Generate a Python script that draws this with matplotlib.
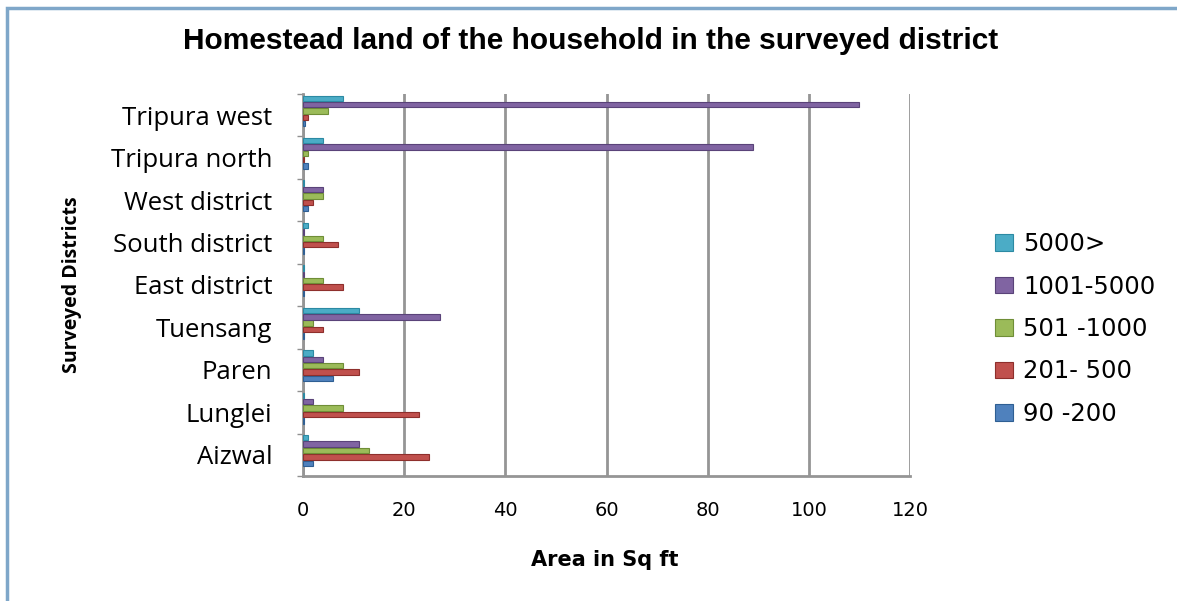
import matplotlib
matplotlib.use("Agg")
import matplotlib.pyplot as plt
import numpy as np
from matplotlib.patches import Rectangle

categories = ["Aizwal", "Lunglei", "Paren", "Tuensang", "East district",
              "South district", "West district", "Tripura north", "Tripura west"]
series_names = ["90 -200", "201- 500", "501 -1000", "1001-5000", "5000>"]
v_90_200 = [2, 0.3, 6, 0.3, 0.3, 0.3, 1, 1, 0.5]
v_201_500 = [25, 23, 11, 4, 8, 7, 2, 0.3, 1]
v_501_1000 = [13, 8, 8, 2, 4, 4, 4, 1, 5]
v_1001_5000 = [11, 2, 4, 27, 0.3, 0.3, 4, 89, 110]
v_5000_up = [1, 0.3, 2, 11, 0.3, 1, 0.3, 4, 8]
colors = ["#4F81BD", "#C0504D", "#9BBB59", "#8064A2", "#4BACC6"]
edge_colors = ["#2F5F93", "#8E2F2C", "#6F8E37", "#5A4379", "#2C8AA3"]
xticks = [0, 20, 40, 60, 80, 100, 120]

series = [v_90_200, v_201_500, v_501_1000, v_1001_5000, v_5000_up]

fig = plt.figure(figsize=(11.77, 6.01), dpi=100)
ax = fig.add_axes([0.2574, 0.208, 0.5158, 0.6356])

y = np.arange(len(categories))
h = 0.15
offsets = (np.arange(5) - 2) * h + 0.1
for i, (vals, name) in enumerate(zip(series, series_names)):
    ax.barh(y + offsets[i], vals, height=h * 0.85, color=colors[i],
            edgecolor=edge_colors[i], linewidth=0.8, label=name, zorder=3)

ax.set_xlim(0, 120)
ax.set_ylim(-0.5, len(categories) - 0.5)
ax.set_xticks(xticks)
ax.set_xticklabels([str(t) for t in xticks], fontsize=14, family="DejaVu Sans")
ax.set_yticks(y)
ax.set_yticklabels(categories, fontsize=18.5, family="Open Sans")
ax.tick_params(axis="x", length=0, pad=18)
ax.tick_params(axis="y", length=0, pad=22)
ax.set_yticks(np.arange(-0.5, len(categories), 1), minor=True)
ax.tick_params(axis="y", which="minor", length=4, color="#909090", width=1)
ax.grid(axis="x", color="#959595", linewidth=2, zorder=0)
for s in ["top", "right"]:
    ax.spines[s].set_visible(False)
ax.spines["left"].set_color("#959595")
ax.spines["left"].set_linewidth(2)
ax.spines["bottom"].set_color("#959595")
ax.spines["bottom"].set_linewidth(2)

fig.text(0.514, 0.068, "Area in Sq ft", ha="center", va="center",
         fontsize=15, fontweight="bold", family="DejaVu Sans")
fig.text(0.061, 0.526, "Surveyed Districts", ha="center", va="center",
         rotation=90, fontsize=14, fontweight="bold", family="Open Sans")

fig.text(0.502, 0.932, "Homestead land of the household in the surveyed district",
         ha="center", va="center", fontsize=21.5, fontweight="bold",
         family="Liberation Sans")

handles, labels = ax.get_legend_handles_labels()
leg = fig.legend(handles[::-1], labels[::-1], loc="center left",
                 bbox_to_anchor=(0.827, 0.4526), frameon=False, fontsize=17.5,
                 handlelength=0.75, handleheight=0.65, labelspacing=0.76,
                 handletextpad=0.4)

fig.patches.append(Rectangle((0.006, -0.1), 1.2, 1.087, transform=fig.transFigure,
                             fill=False, edgecolor="#7FA7C9", linewidth=2.5))

fig.savefig("out.png", dpi=100)
